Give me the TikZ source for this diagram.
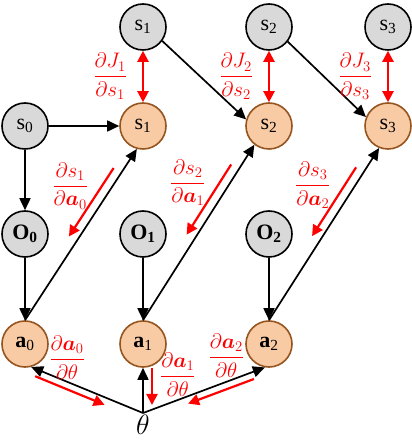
\RequirePackage{fix-cm}
\documentclass[tikz,border=0pt]{standalone}
\usepackage{fontspec}
\setmainfont{Liberation Serif}
\usepackage{amsmath}
\usepackage{xcolor}
\usepackage{tikz}
\usetikzlibrary{arrows.meta, positioning, calc}
\definecolor{stgray}{RGB}{217,217,217}
\definecolor{storange}{RGB}{248,203,165}
\definecolor{stbrown}{RGB}{150,84,30}
\definecolor{gradred}{RGB}{255,0,0}
\tikzset{
  gstate/.style={circle, draw=black, fill=stgray, line width=1.6pt,
    minimum size=46pt, inner sep=0pt, font=\fontsize{22}{24}\selectfont},
  ostate/.style={gstate, draw=stbrown, fill=storange},
  flow/.style={line width=1.7pt, -{Triangle[length=12pt,width=11pt]}},
  grad/.style={draw=gradred, line width=2.2pt, -{Triangle[length=11pt,width=11pt]}},
  gradboth/.style={grad, {Triangle[length=11pt,width=11pt]}-{Triangle[length=11pt,width=11pt]}},
  gradlbl/.style={text=gradred, inner sep=1pt, font=\fontsize{21}{23}\selectfont}
}

\begin{document}
\begin{tikzpicture}[x=1pt, y=1pt]
  \useasboundingbox (0,0) rectangle (412,447);
  % states from the rollout
  \node[gstate] (topS1) at (143,420) {s\textsubscript{1}};
  \node[gstate] (topS2) at (269,420) {s\textsubscript{2}};
  \node[gstate] (topS3) at (388,420) {s\textsubscript{3}};
  \node[gstate] (s0) at (25,321) {s\textsubscript{0}};
  \node[ostate] (s1o) at (143,321) {s\textsubscript{1}};
  \node[ostate] (s2o) at (269,321) {s\textsubscript{2}};
  \node[ostate] (s3o) at (388,321) {s\textsubscript{3}};
  % observations and actions
  \node[gstate] (O0) at (25,213) {\textbf{O\textsubscript{0}}};
  \node[gstate] (O1) at (143,213) {\textbf{O\textsubscript{1}}};
  \node[gstate] (O2) at (269,213) {\textbf{O\textsubscript{2}}};
  \node[ostate] (a0) at (25,103) {\textbf{a}\textsubscript{0}};
  \node[ostate] (a1) at (143,103) {\textbf{a}\textsubscript{1}};
  \node[ostate] (a2) at (269,103) {\textbf{a}\textsubscript{2}};
  \node[anchor=north, inner sep=2pt, font=\fontsize{28}{30}\selectfont] (theta) at (143,34) {$\theta$};

  % black connectors
  \draw[flow] (s0) -- (s1o);
  \draw[flow] (s0) -- (O0);
  \draw[flow] (topS1.-36) -- (s2o.164);
  \draw[flow] (topS2.-38) -- (s3o.158);
  \foreach \o/\a in {O0/a0, O1/a1, O2/a2}
    \draw[flow] (\o) -- (\a);
  \foreach \a/\s/\ang in {a0/s1o/-105, a1/s2o/-128, a2/s3o/-112}
    \draw[flow] (\a.north) -- (\s.\ang);
  \draw[flow] (theta.north) -- (a0.-75);
  \draw[flow] (theta.north) -- (a1.south);
  \draw[flow] (theta.north) -- (a2.-100);

  % red gradients
  \foreach \n in {1,2,3}
    \draw[gradboth] (topS\n) -- (s\n o)
      node[midway, gradlbl, left=14pt] {$\dfrac{\partial J_\n}{\partial s_\n}$};
  \foreach \a/\s/\ang/\n/\m in {a0/s1o/-105/1/0, a1/s2o/-128/2/1, a2/s3o/-112/3/2}{
    \coordinate (rs\n a) at ($(\a.north)!0.86!(\s.\ang)!9pt!90:(\s.\ang)$);
    \coordinate (rs\n b) at ($(\a.north)!0.46!(\s.\ang)!9pt!90:(\s.\ang)$);
    \draw[grad] (rs\n a) -- (rs\n b)
      node[pos=0.26, gradlbl, left=12pt] {$\dfrac{\partial s_\n}{\partial\boldsymbol{a}_\m}$};
  }
  \coordinate (ra0a) at ($(theta.north)!0.94!(a0.-75)!7pt!90:(a0.-75)$);
  \coordinate (ra0b) at ($(theta.north)!0.32!(a0.-75)!7pt!90:(a0.-75)$);
  \draw[grad] (ra0a) -- (ra0b)
    node[pos=0.46, gradlbl, above=8pt] {$\dfrac{\partial\boldsymbol{a}_0}{\partial\theta}$};
  \coordinate (ra1a) at ($(a1.south)+(9,0)$);
  \coordinate (ra1b) at ($(theta.north)+(9,8)$);
  \draw[grad] (ra1a) -- (ra1b)
    node[pos=0.18, gradlbl, right=6pt] {$\dfrac{\partial\boldsymbol{a}_1}{\partial\theta}$};
  \coordinate (ra2a) at ($(theta.north)!0.89!(a2.-100)!7pt!-90:(a2.-100)$);
  \coordinate (ra2b) at ($(theta.north)!0.35!(a2.-100)!7pt!-90:(a2.-100)$);
  \draw[grad] (ra2a) -- (ra2b)
    node[pos=0.42, gradlbl, above=10pt] {$\dfrac{\partial\boldsymbol{a}_2}{\partial\theta}$};
\end{tikzpicture}
\end{document}
